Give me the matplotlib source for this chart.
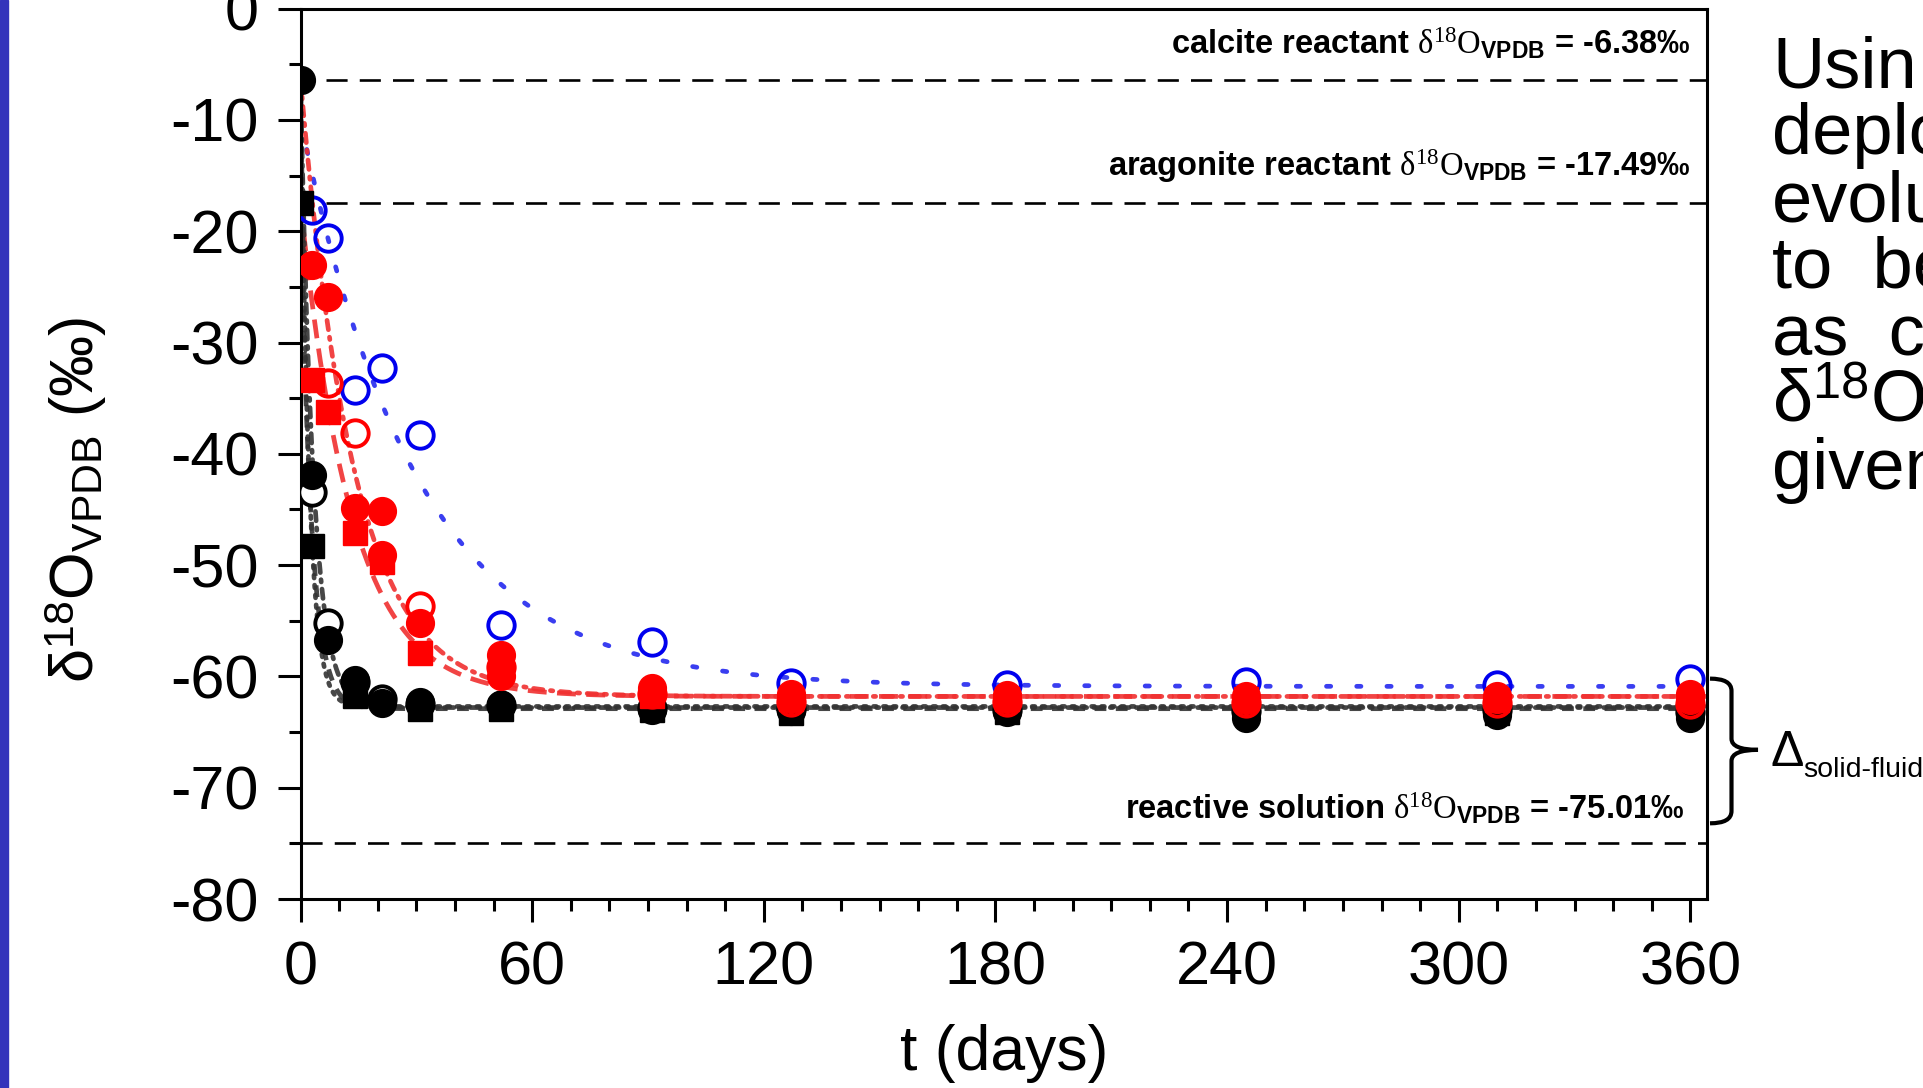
import matplotlib
matplotlib.use('Agg')
import matplotlib.pyplot as plt
import numpy as np
import matplotlib.transforms as mtransforms
from matplotlib.path import Path
from matplotlib.patches import PathPatch, Rectangle
from matplotlib.ticker import MultipleLocator

# ---------------- data ----------------
t_blue_open = [3, 7, 14, 21, 31, 52, 91, 127, 183, 245, 310, 360]
y_blue_open = [-18.1, -20.6, -34.3, -32.3, -38.3, -55.4, -56.9, -60.6, -60.8, -60.5, -60.8, -60.2]

t_black_circ = [0, 3, 7, 14, 21, 31, 52, 91, 127, 183, 245, 310, 360]
y_black_circ = [-6.38, -41.9, -56.7, -60.3, -62.4, -62.3, -62.6, -63.0, -63.1, -63.2, -63.7, -63.5, -63.7]

t_black_sq = [0, 3, 14, 31, 52, 91, 127, 183, 245, 310, 360]
y_black_sq = [-17.49, -48.3, -61.8, -62.9, -62.9, -63.0, -63.3, -63.2, -63.1, -63.3, -63.2]

t_black_open = [3, 7, 14, 21, 31, 52, 91, 127, 183, 245, 310, 360]
y_black_open = [-43.4, -55.2, -60.5, -62.0, -62.5, -62.6, -62.8, -62.9, -63.0, -63.1, -63.0, -63.2]

t_red_circ1 = [3, 7, 14, 21, 31, 52, 91, 127, 183, 245, 310, 360]
y_red_circ1 = [-23.0, -25.9, -44.9, -49.1, -55.2, -58.1, -61.0, -61.6, -61.7, -61.8, -61.8, -61.6]

t_red_circ2 = [21, 52, 91, 127, 183, 245, 310, 360]
y_red_circ2 = [-45.1, -60.0, -61.5, -62.0, -62.0, -62.1, -62.0, -62.1]

t_red_sq = [3, 7, 14, 21, 31, 52, 91, 127, 183, 245, 310, 360]
y_red_sq = [-33.4, -36.2, -47.1, -49.7, -57.9, -59.5, -61.8, -62.0, -62.0, -62.0, -62.1, -62.0]

t_red_open = [7, 14, 31, 52, 91, 127, 183, 245, 310, 360]
y_red_open = [-33.6, -38.1, -53.7, -59.2, -61.6, -62.3, -62.3, -62.4, -62.4, -62.5]

# exponential fit parameters (start value, plateau, rate per day)
fit_blue = (-10.0, -60.9, 0.033)
fit_red_dash = (-17.49, -61.8, 0.075)
fit_red_dashdot = (-6.38, -61.8, 0.072)
fit_black_dot = (-6.38, -62.7, 0.45)
fit_black_dash = (-17.49, -62.9, 0.35)
fit_black_dashdot = (-6.38, -62.8, 0.30)

# reference compositions
calcite_ref = -6.38
aragonite_ref = -17.49
solution_ref = -75.01

x_ticks = [0, 60, 120, 180, 240, 300, 360]
y_ticks = [0, -10, -20, -30, -40, -50, -60, -70, -80]

slide_lines = ["Usin", "deplo", "evolu", "to  be", "as  c", None, "given"]

# ---------------- style ----------------
plt.rcParams['font.family'] = ['Liberation Sans', 'DejaVu Sans']
plt.rcParams['axes.unicode_minus'] = False
plt.rcParams['mathtext.fontset'] = 'custom'
plt.rcParams['mathtext.rm'] = 'Liberation Serif'
plt.rcParams['mathtext.it'] = 'Liberation Serif:italic'
plt.rcParams['mathtext.bf'] = 'Liberation Sans:bold'
plt.rcParams['mathtext.sf'] = 'Liberation Sans'

W, H = 1923, 1088
fig = plt.figure(figsize=(W / 100, H / 100), dpi=100)
fig.patch.set_facecolor('white')

ax = fig.add_axes([300.5 / W, 1 - 899 / H, (1707 - 300.5) / W, (899 - 8.6) / H])
ax.set_xlim(0, 364.3)
ax.set_ylim(-80, 0)

def fit_curve(p, t):
    y0, yeq, k = p
    return yeq + (y0 - yeq) * np.exp(-k * t)

tt = np.linspace(0, 364.3, 3000)

# fit lines
ax.plot(tt, fit_curve(fit_blue, tt), color='#3a3ef0', lw=3.4,
        linestyle=(0, (0.9, 5.5)), dash_capstyle='round', zorder=2)
ax.plot(tt, fit_curve(fit_red_dash, tt), color='#f03030', lw=3.4,
        linestyle=(0, (4.0, 2.2)), zorder=2, alpha=0.9)
ax.plot(tt, fit_curve(fit_red_dashdot, tt), color='#f03030', lw=3.4,
        linestyle=(0, (2.0, 1.6, 0.5, 1.6)), dash_capstyle='round', zorder=2, alpha=0.9)
ax.plot(tt, fit_curve(fit_black_dot, tt), color='#333333', lw=3.4,
        linestyle=(0, (0.6, 1.5)), dash_capstyle='round', zorder=2, alpha=0.9)
ax.plot(tt, fit_curve(fit_black_dash, tt), color='#333333', lw=3.4,
        linestyle=(0, (2.5, 2.0)), zorder=2, alpha=0.9)
ax.plot(tt, fit_curve(fit_black_dashdot, tt), color='#333333', lw=3.4,
        linestyle=(2, (2.0, 1.5, 0.5, 1.5)), dash_capstyle='round', zorder=2, alpha=0.9)

# reference lines
dash = (0, (8.0, 4.6))
ax.axhline(calcite_ref, xmin=6.5 / 364.3, color='black', lw=1.9, linestyle=dash, zorder=1)
ax.axhline(aragonite_ref, xmin=6.5 / 364.3, color='black', lw=1.9, linestyle=dash, zorder=1)
ax.axhline(solution_ref, color='black', lw=1.9, linestyle=dash, zorder=1)

# markers
ms_c = 20
ax.plot(t_blue_open, y_blue_open, 'o', ms=19, mfc='none', mec='#0000ee', mew=2.8, zorder=3)
ax.plot(t_black_open, y_black_open, 'o', ms=19, mfc='white', mec='black', mew=2.8, zorder=4)
ax.plot(t_black_sq, y_black_sq, 's', ms=17, color='black', zorder=4)
ax.plot(t_black_circ, y_black_circ, 'o', ms=ms_c, color='black', zorder=4)
ax.plot(t_red_sq, y_red_sq, 's', ms=17, color='#ff0000', zorder=5)
ax.plot(t_red_circ2, y_red_circ2, 'o', ms=ms_c, color='#ff0000', zorder=5)
ax.plot(t_red_circ1, y_red_circ1, 'o', ms=ms_c, color='#ff0000', zorder=5)
ax.plot(t_red_open, y_red_open, 'o', ms=19, mfc='none', mec='#ff0000', mew=2.8, zorder=6)

# annotations
ann_kw = dict(ha='right', va='baseline', fontsize=23.5, fontweight='bold', zorder=7)
ax.text(360, -4.1, r"calcite reactant $\mathrm{\delta}^{\mathrm{18}}\mathrm{O}_{\mathbf{VPDB}}$ = -6.38‰", **ann_kw)
ax.text(360, -15.0, r"aragonite reactant $\mathrm{\delta}^{\mathrm{18}}\mathrm{O}_{\mathbf{VPDB}}$ = -17.49‰", **ann_kw)
ax.text(358.5, -72.8, r"reactive solution $\mathrm{\delta}^{\mathrm{18}}\mathrm{O}_{\mathbf{VPDB}}$ = -75.01‰", **ann_kw)

# axes styling
for s in ax.spines.values():
    s.set_linewidth(2.2)
ax.set_xticks(x_ticks)
ax.set_yticks(y_ticks)
ax.xaxis.set_minor_locator(MultipleLocator(10))
ax.yaxis.set_minor_locator(MultipleLocator(5))
ax.tick_params(which='both', direction='out', width=2.2, top=False, right=False)
ax.tick_params(which='major', length=16.5, labelsize=44, pad=13.5)
ax.tick_params(which='minor', length=8.6)

fig.text(1004 / W, 1 - 1070 / H, "t (days)", ha='center', va='baseline', fontsize=45)
fig.text(76 / W, 1 - 500 / H,
         r"$\mathsf{\delta}^{\mathsf{18}}\mathsf{O}_{\mathsf{VPDB}}$ (‰)",
         rotation=90, ha='center', va='center', fontsize=44)

# left blue slide bar
fig.patches.append(Rectangle((0, 0), 7.5 / W, 1, transform=fig.transFigure,
                             color='#3333bb', zorder=0))

# brace for Delta solid-fluid
bt = mtransforms.blended_transform_factory(fig.transFigure, ax.transData)
def fx(px):
    return px / W
verts = [
    (fx(1710), -60.2), (fx(1731.5), -60.2), (fx(1731.5), -61.3),
    (fx(1731.5), -65.6), (fx(1731.5), -66.6), (fx(1758), -66.6),
    (fx(1731.5), -66.6), (fx(1731.5), -67.6),
    (fx(1731.5), -72.1), (fx(1731.5), -73.2), (fx(1710), -73.2),
]
codes = [Path.MOVETO, Path.CURVE3, Path.CURVE3,
         Path.LINETO, Path.CURVE3, Path.CURVE3,
         Path.CURVE3, Path.CURVE3,
         Path.LINETO, Path.CURVE3, Path.CURVE3]
brace = PathPatch(Path(verts, codes), transform=bt, fill=False, lw=3.0,
                  edgecolor='black', clip_on=False, capstyle='butt')
fig.patches.append(brace)

fig.text(1770 / W, 1 - 766 / H, "Δ", fontsize=36, ha='left', va='baseline')
fig.text(1803 / W, 1 - 777 / H, "solid-fluid", fontsize=20.5, ha='left', va='baseline')

# slide text on the right (cut by figure edge)
x0 = 1772 / W
base0 = 87
step = 67
for i, line in enumerate(slide_lines):
    yb = 1 - (base0 + i * step) / H
    if line is None:
        fig.text(x0, yb, r"$\mathsf{\delta}^{\mathsf{18}}\mathsf{O}$", fontsize=52,
                 ha='left', va='baseline')
    else:
        fig.text(x0, yb, line, fontsize=52, ha='left', va='baseline')

fig.savefig('out.png', dpi=100, facecolor='white')
